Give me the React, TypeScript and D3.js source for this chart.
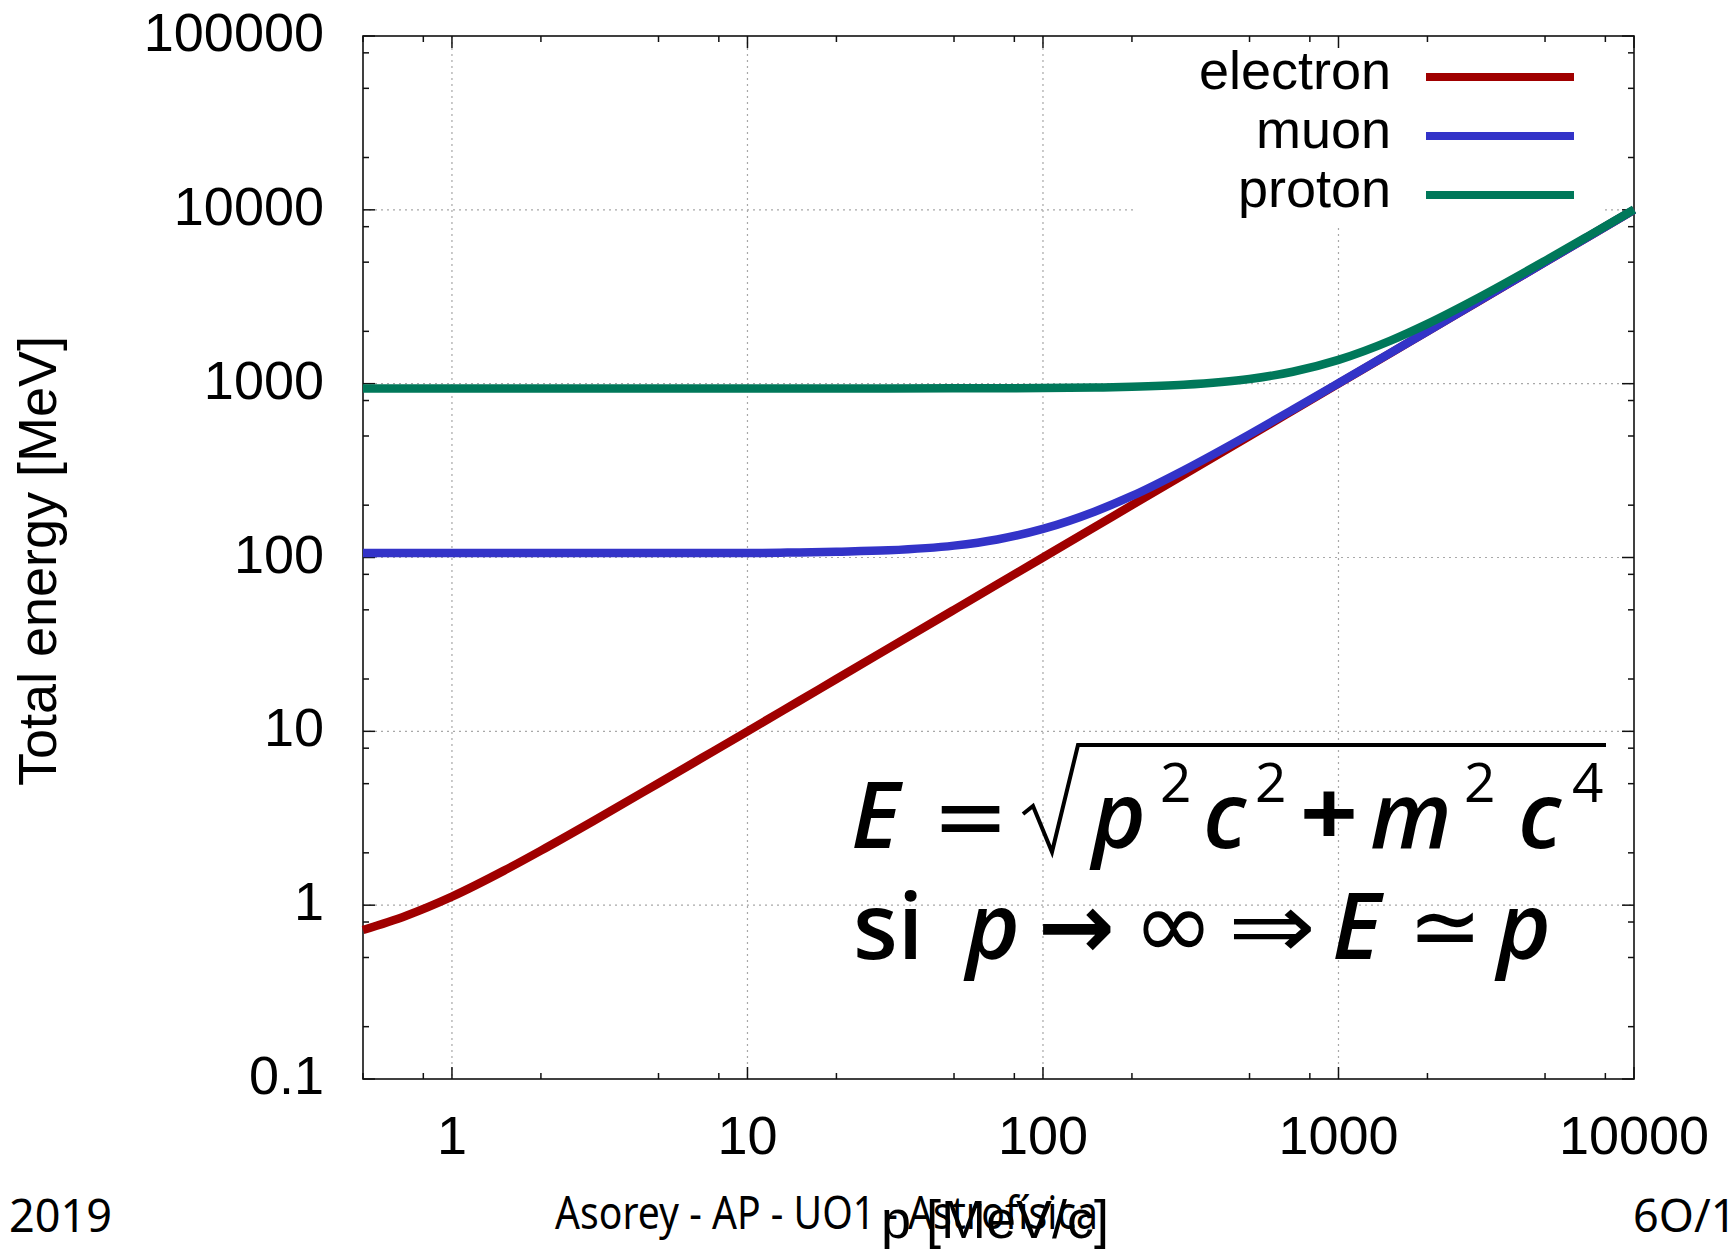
import React from "react";
import * as d3 from "d3";

// momentum samples [MeV/c] and total energy [MeV]
const momentum = [0.5, 0.7, 1, 1.5, 2, 3, 5, 7, 10, 15, 20, 30, 50, 70, 100, 150, 200, 300, 500, 700, 1000, 1500, 2000, 3000, 5000, 7000, 10000];
const electronE = [0.72, 0.87, 1.12, 1.58, 2.06, 3.04, 5.03, 7.02, 10, 15, 20, 30, 50, 70, 100, 150, 200, 300, 500, 700, 1000, 1500, 2000, 3000, 5000, 7000, 10000];
const muonE = [106, 106, 106, 106, 106, 106, 106, 106, 106, 107, 108, 110, 117, 127, 146, 184, 226, 318, 511, 708, 1006, 1504, 2003, 3002, 5001, 7001, 10001];
const protonE = [938, 938, 938, 938, 938, 938, 938, 938, 938, 938, 938, 939, 940, 941, 944, 950, 959, 985, 1063, 1171, 1371, 1769, 2209, 3143, 5087, 7063, 10044];

const seriesNames = ["electron", "muon", "proton"];
const seriesColors = ["#a00000", "#3333c8", "#00785a"];
const seriesValues = [electronE, muonE, protonE];

const xTicks = [1, 10, 100, 1000, 10000];
const xTickLabels = ["1", "10", "100", "1000", "10000"];
const yTicks = [0.1, 1, 10, 100, 1000, 10000, 100000];
const yTickLabels = ["0.1", "1", "10", "100", "1000", "10000", "100000"];
const minorFactors = [2, 5, 8];

const W = 1731;
const H = 1251;
const margin = { left: 363, right: 1634, top: 36, bottom: 1079 };
const axisFont = "'Liberation Sans', Arial, sans-serif";
const mathFont = "'Open Sans', 'Noto Sans', sans-serif";
const symFont = "'DejaVu Sans', sans-serif";
const footFont = "'Noto Sans', 'Open Sans', sans-serif";

export default function App() {
  const x = d3.scaleLog().domain([0.5, 10000]).range([margin.left, margin.right]);
  const y = d3.scaleLog().domain([0.1, 100000]).range([margin.bottom, margin.top]);

  const minorX: number[] = [];
  const minorY: number[] = [];
  for (let e = -1; e <= 4; e++) {
    minorFactors.forEach((f) => {
      const v = f * Math.pow(10, e);
      if (v >= 0.5 && v <= 10000) minorX.push(v);
      if (v >= 0.1 && v <= 100000) minorY.push(v);
    });
  }

  const line = d3
    .line<number>()
    .x((_, i) => x(momentum[i]))
    .y((d) => y(d))
    .curve(d3.curveMonotoneX);

  const gridStyle = { stroke: "#a8a8a8", strokeWidth: 1.2, strokeDasharray: "2,4" };
  const legendBox = { x0: 1137, x1: 1602, y0: margin.top, y1: 225 };
  const it = { fontFamily: mathFont, fontStyle: "italic", fontWeight: 600, fontSize: 92 };
  const sup = { fontFamily: mathFont, fontSize: 55 };

  return (
    <svg
      width={W}
      height={H}
      style={{ position: "absolute", left: 0, top: 0, background: "#fff" }}
    >
      {/* grid */}
      {xTicks.slice(0, -1).map((t) => (
        <line key={"gx" + t} x1={x(t)} x2={x(t)} y1={margin.top} y2={margin.bottom} {...gridStyle} />
      ))}
      {yTicks.slice(1, -1).map((t) => (
        <line key={"gy" + t} x1={margin.left} x2={margin.right} y1={y(t)} y2={y(t)} {...gridStyle} />
      ))}

      {/* opaque legend box */}
      <rect
        x={legendBox.x0}
        y={legendBox.y0}
        width={legendBox.x1 - legendBox.x0}
        height={legendBox.y1 - legendBox.y0}
        fill="#fff"
      />

      {/* ticks */}
      <g stroke="#111" strokeWidth={1.5}>
        {xTicks.map((t) => (
          <g key={"tx" + t}>
            <line x1={x(t)} x2={x(t)} y1={margin.bottom} y2={margin.bottom - 12} />
            <line x1={x(t)} x2={x(t)} y1={margin.top} y2={margin.top + 12} />
          </g>
        ))}
        {minorX.map((t) => (
          <g key={"mx" + t}>
            <line x1={x(t)} x2={x(t)} y1={margin.bottom} y2={margin.bottom - 6} />
            <line x1={x(t)} x2={x(t)} y1={margin.top} y2={margin.top + 6} />
          </g>
        ))}
        {yTicks.map((t) => (
          <g key={"ty" + t}>
            <line x1={margin.left} x2={margin.left + 12} y1={y(t)} y2={y(t)} />
            <line x1={margin.right} x2={margin.right - 12} y1={y(t)} y2={y(t)} />
          </g>
        ))}
        {minorY.map((t) => (
          <g key={"my" + t}>
            <line x1={margin.left} x2={margin.left + 6} y1={y(t)} y2={y(t)} />
            <line x1={margin.right} x2={margin.right - 6} y1={y(t)} y2={y(t)} />
          </g>
        ))}
      </g>

      {/* border */}
      <rect
        x={margin.left}
        y={margin.top}
        width={margin.right - margin.left}
        height={margin.bottom - margin.top}
        fill="none"
        stroke="#111"
        strokeWidth={1.6}
      />

      {/* tick labels */}
      <g fontFamily={axisFont} fontSize={54} fill="#000">
        {yTicks.map((t, i) => (
          <text key={"ly" + t} x={324} y={y(t) + 15} textAnchor="end">
            {yTickLabels[i]}
          </text>
        ))}
        {xTicks.map((t, i) => (
          <text key={"lx" + t} x={x(t)} y={1154} textAnchor="middle">
            {xTickLabels[i]}
          </text>
        ))}
        <text transform="translate(56,561) rotate(-90)" textAnchor="middle">
          Total energy [MeV]
        </text>
      </g>

      {/* curves */}
      {seriesValues.map((vals, i) => (
        <path
          key={seriesNames[i]}
          d={line(vals) || ""}
          fill="none"
          stroke={seriesColors[i]}
          strokeWidth={8.5}
          strokeLinejoin="round"
        />
      ))}

      {/* legend */}
      <g fontFamily={axisFont} fontSize={54}>
        {seriesNames.map((name, i) => (
          <g key={"lg" + name}>
            <text x={1391} y={89 + i * 59} textAnchor="end" fill="#000">
              {name}
            </text>
            <line x1={1426} x2={1574} y1={77 + i * 59} y2={77 + i * 59} stroke={seriesColors[i]} strokeWidth={8} />
          </g>
        ))}
      </g>

      {/* formula */}
      <g fill="#000">
        <text x={851} y={848} {...it}>E</text>
        <text x={932} y={848} fontFamily={symFont} fontSize={92}>=</text>
        <path
          d="M1023,814 L1033,806 L1052,852 L1078,745 L1606,745"
          fill="none"
          stroke="#000"
          strokeWidth={4}
          strokeLinejoin="miter"
        />
        <text x={1092} y={848} {...it}>p</text>
        <text x={1160} y={802} {...sup}>2</text>
        <text x={1203} y={848} {...it}>c</text>
        <text x={1255} y={802} {...sup}>2</text>
        <text x={1300} y={846} fontFamily={mathFont} fontWeight={700} fontSize={92} textLength={58} lengthAdjust="spacingAndGlyphs">+</text>
        <text x={1370} y={848} {...it}>m</text>
        <text x={1464} y={802} {...sup}>2</text>
        <text x={1518} y={848} {...it}>c</text>
        <text x={1572} y={802} {...sup}>4</text>

        <text x={853} y={959} fontFamily={mathFont} fontWeight={600} fontSize={92}>si</text>
        <text x={966} y={959} {...it}>p</text>
        <text x={1038} y={958} fontFamily={symFont} fontWeight={700} fontSize={92}>→</text>
        <text x={1133} y={958} fontFamily={symFont} fontSize={96} textLength={81} lengthAdjust="spacingAndGlyphs">∞</text>
        <text x={1228} y={958} fontFamily={symFont} fontSize={92} textLength={88} lengthAdjust="spacingAndGlyphs">⇒</text>
        <text x={1332} y={959} {...it}>E</text>
        <text x={1408} y={958} fontFamily={symFont} fontSize={92} textLength={74} lengthAdjust="spacingAndGlyphs">≃</text>
        <text x={1497} y={959} {...it}>p</text>
      </g>

      {/* slide footer */}
      <g fontFamily={footFont} fontSize={45} fill="#000">
        <text x={9} y={1232}>2019</text>
        <text x={555} y={1229} textLength={543} lengthAdjust="spacingAndGlyphs">
          Asorey - AP - UO1 - Astrofísica
        </text>
        <text x={1633} y={1232}>6O/12</text>
      </g>

      {/* x axis title */}
      <text x={995} y={1238} textAnchor="middle" fontFamily={axisFont} fontSize={54} fill="#000">
        p [MeV/c]
      </text>
    </svg>
  );
}
